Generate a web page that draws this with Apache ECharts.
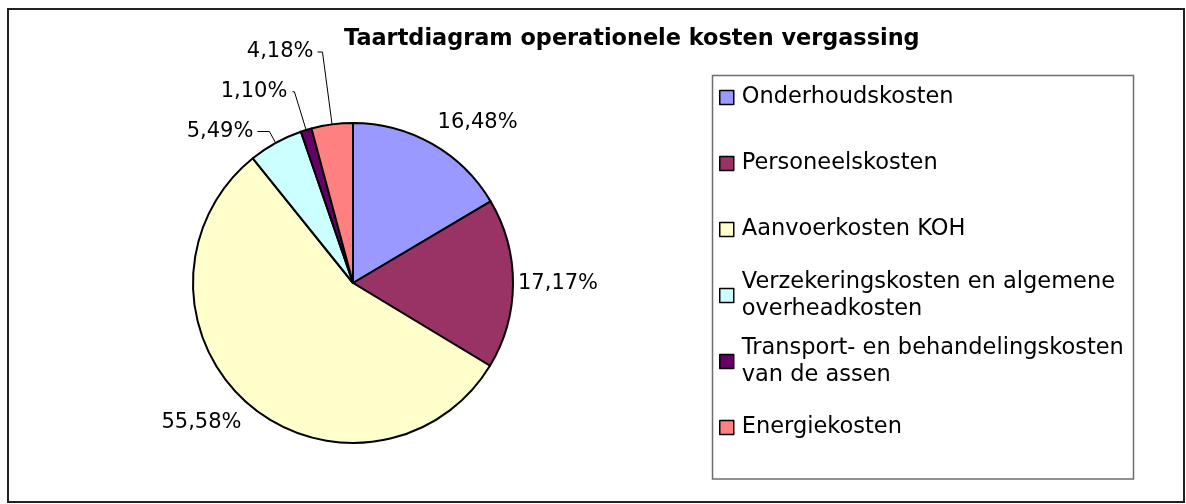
<!DOCTYPE html>
<html>
<head>
<meta charset="utf-8">
<script src="https://cdn.jsdelivr.net/npm/echarts@6/dist/echarts.min.js"></script>
<style>
  html, body { margin: 0; padding: 0; background: #fff; }
  #chart { width: 1186px; height: 504px; }
</style>
</head>
<body>
<div id="chart"></div>
<script>
// ---- data ----
const chartTitle = 'Taartdiagram operationele kosten vergassing';
const categories = [
  'Onderhoudskosten',
  'Personeelskosten',
  'Aanvoerkosten KOH',
  'Verzekeringskosten en algemene overheadkosten',
  'Transport- en behandelingskosten van de assen',
  'Energiekosten'
];
const shares = [16.48, 17.17, 55.58, 5.49, 1.10, 4.18];
const legendLabels = [
  'Onderhoudskosten',
  'Personeelskosten',
  'Aanvoerkosten KOH',
  'Verzekeringskosten en algemene\noverheadkosten',
  'Transport- en behandelingskosten\nvan de assen',
  'Energiekosten'
];
const colors = ['#9999FF', '#993366', '#FFFFCC', '#CCFFFF', '#660066', '#FF8080'];

// ---- label styling (leader line lengths / gaps) ----
const labelLineShow = [false, false, false, true, true, true];
const labelLineLen = [25, 0, 26, 13, 40, 73];
const labelLineLen2 = [0, 0, 0, 12, 2, 5];
const labelGap = [-7, 5, -11, 4, 5, 4];

const FONT = 'DejaVu Sans';

const chart = echarts.init(document.getElementById('chart'), null, { renderer: 'canvas' });

const pieData = categories.map((name, i) => ({
  name: name,
  value: shares[i],
  itemStyle: { color: colors[i] },
  label: { distanceToLabelLine: labelGap[i] },
  labelLine: { show: labelLineShow[i], length: labelLineLen[i], length2: labelLineLen2[i] }
}));

const legendData = categories.map((name, i) => {
  const item = { name: name };
  if (legendLabels[i].indexOf('\n') >= 0) {
    item.textStyle = { padding: [27, 0, 0, 3] };
  }
  return item;
});

const option = {
  backgroundColor: '#ffffff',
  animation: false,
  title: {
    text: chartTitle,
    left: 344,
    top: 28,
    padding: 0,
    textStyle: { fontFamily: FONT, fontSize: 22.4, fontWeight: 'bold', color: '#000' }
  },
  graphic: [
    {
      type: 'rect', silent: true, z: -1,
      shape: { x: 8, y: 9, width: 1176, height: 493 },
      style: { fill: 'none', stroke: '#222', lineWidth: 2 }
    },
    {
      type: 'rect', silent: true, z: -1,
      shape: { x: 712.5, y: 75.5, width: 421, height: 403.5 },
      style: { fill: '#fff', stroke: '#6e6e6e', lineWidth: 1.5 }
    }
  ],
  legend: {
    orient: 'vertical',
    left: 719,
    top: 57,
    padding: 0,
    itemGap: -15,
    itemWidth: 14,
    itemHeight: 14,
    icon: 'rect',
    selectedMode: false,
    itemStyle: { borderColor: '#000', borderWidth: 1.5 },
    textStyle: {
      fontFamily: FONT, fontSize: 22.5, color: '#000', lineHeight: 27,
      padding: [27, 0, 27, 3], backgroundColor: 'transparent'
    },
    formatter: function (name) { return legendLabels[categories.indexOf(name)]; },
    data: legendData
  },
  series: [
    {
      type: 'pie',
      center: [353, 283],
      radius: 160,
      startAngle: 90,
      clockwise: true,
      avoidLabelOverlap: false,
      silent: true,
      itemStyle: { borderColor: '#000', borderWidth: 2 },
      label: {
        show: true,
        position: 'outside',
        fontFamily: FONT,
        fontSize: 21,
        color: '#000',
        formatter: function (p) { return p.value.toFixed(2).replace('.', ',') + '%'; }
      },
      labelLine: { smooth: false, lineStyle: { color: '#000', width: 1 } },
      emphasis: { disabled: true },
      data: pieData
    }
  ]
};

chart.setOption(option);
</script>
</body>
</html>
